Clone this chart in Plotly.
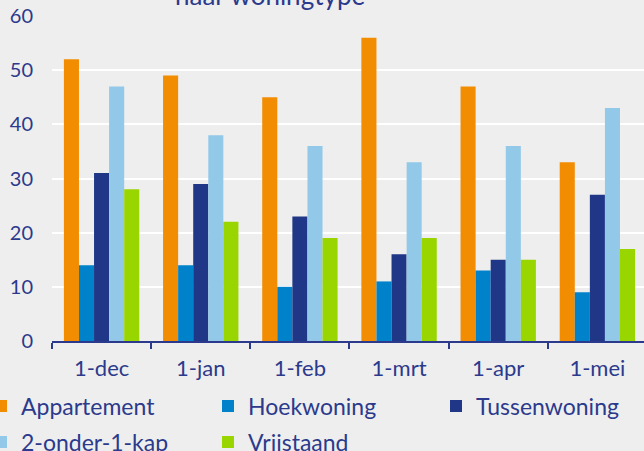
import plotly.graph_objects as go

# months and counts per woningtype
maanden = ["1-dec", "1-jan", "1-feb", "1-mrt", "1-apr", "1-mei"]
appartement = [52, 49, 45, 56, 47, 33]
hoekwoning = [14, 14, 10, 11, 13, 9]
tussenwoning = [31, 29, 23, 16, 15, 27]
twee_onder_een_kap = [47, 38, 36, 33, 36, 43]
vrijstaand = [28, 22, 19, 19, 15, 17]

series = [
    ("Appartement", appartement, "#F28C00"),
    ("Hoekwoning", hoekwoning, "#0082CA"),
    ("Tussenwoning", tussenwoning, "#1F3786"),
    ("2-onder-1-kap", twee_onder_een_kap, "#92C9E8"),
    ("Vrijstaand", vrijstaand, "#99D600"),
]

text_color = "#2B3A8C"
font_family = "Lato, 'Open Sans', sans-serif"

# plot area in pixels (for placing the legends)
left, plot_w, plot_h = 52, 592, 325

fig = go.Figure()
legend_ids = ["legend", "legend2", "legend3", "legend4", "legend5"]
for (name, vals, col), lg in zip(series, legend_ids):
    fig.add_trace(go.Bar(x=maanden, y=vals, name=name, marker_color=col,
                         marker_line_width=0, legend=lg))

# one legend per entry: two rows like the original
symbol_x = [3, 230, 458, 3, 230]
row_y = [406, 406, 406, 442, 442]
legends = {}
for lg, sx, ry in zip(legend_ids, symbol_x, row_y):
    legends[lg] = dict(
        x=(sx - 22 - left) / plot_w, xanchor="left",
        y=-(ry - 341) / plot_h, yanchor="middle",
        orientation="h", bgcolor="rgba(0,0,0,0)",
        font=dict(size=23, color=text_color),
    )

fig.update_layout(
    width=644, height=451,
    margin=dict(l=left, r=0, t=16, b=110, autoexpand=False),
    paper_bgcolor="#EEEEEE", plot_bgcolor="#EEEEEE",
    barmode="group", bargap=0.24, bargroupgap=0,
    font=dict(family=font_family, color=text_color, size=20),
    showlegend=True,
    **legends,
)

# title is cut off at the top in the original
fig.add_annotation(text="naar woningtype", xref="paper", yref="paper",
                   x=(270 - left) / plot_w, y=1 + 21 / plot_h, xanchor="center", yanchor="middle",
                   showarrow=False, font=dict(size=26, color=text_color))

fig.update_yaxes(range=[0, 60], dtick=10, showgrid=True, gridcolor="white", gridwidth=2,
                 zeroline=False, showline=False, ticks="", ticklabelstandoff=18,
                 tickfont=dict(size=20))
fig.update_xaxes(range=[-0.5, 5.47], showline=True, linecolor=text_color, linewidth=2,
                 ticks="outside", tickson="boundaries", ticklen=6, tickcolor=text_color,
                 tickwidth=2, ticklabelstandoff=7, tickfont=dict(size=22))

fig.write_html("out.html",
               config={"displayModeBar": False},
               post_script="document.body.style.margin='0';"
                           "document.body.style.background='#EEEEEE';")
